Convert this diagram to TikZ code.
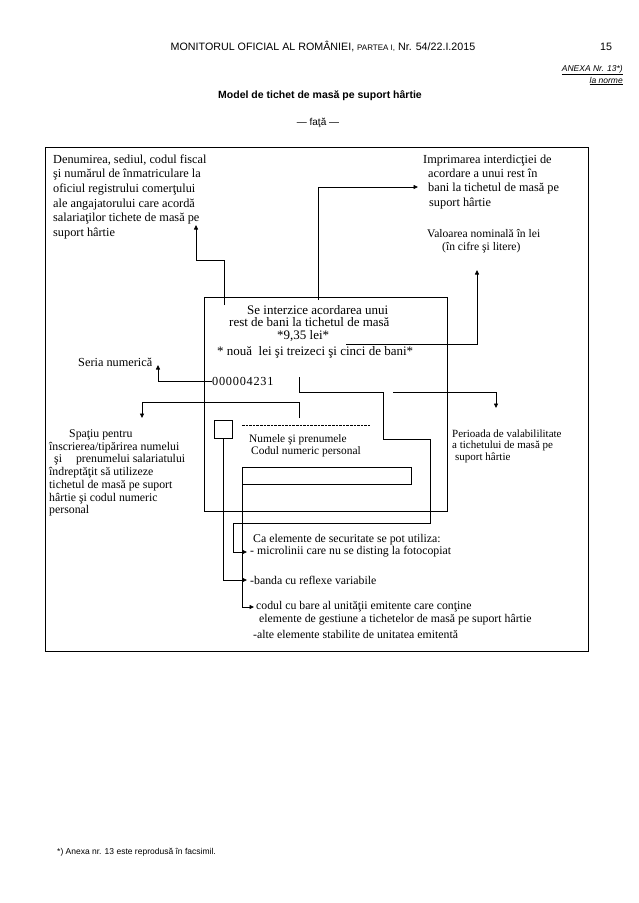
\documentclass[tikz,border=0pt]{standalone}
\usepackage{fontspec}
\setmainfont{Liberation Serif}
\setsansfont{Liberation Sans}
\usetikzlibrary{arrows.meta,calc,positioning}

\begin{document}
\begin{tikzpicture}[x=1pt, y=-1pt, >={Triangle[length=4.5pt,width=4pt]},
    every node/.style={inner sep=0pt},
    txt/.style={font=\fontsize{12.3}{14.6}\selectfont, align=left, anchor=north west},
    smalltxt/.style={font=\fontsize{11.8}{12.7}\selectfont, align=left, anchor=north west},
    line/.style={font=\fontsize{11.8}{13}\selectfont, anchor=west},
    head/.style={font=\sffamily\fontsize{10.7}{12}\selectfont},
    frame/.style={draw, line width=1.1pt, anchor=north west},
    conn/.style={line width=0.8pt} ]

    \useasboundingbox[fill=white] (0,0) rectangle (638,903);

    % header
    \node[head] (title) at (323,47) {MONITORUL OFICIAL AL ROMÂNIEI, {\fontsize{8}{9}\selectfont PARTEA I,} Nr. 54/22.I.2015};
    \node[head] (pagenum) at (606,47) {15};
    \node[font=\sffamily\itshape\fontsize{8.5}{10}\selectfont, anchor=east] (anexa) at (623,70) {\underline{ANEXA Nr. 13*)}};
    \node[font=\sffamily\itshape\fontsize{8.5}{10}\selectfont, anchor=east] (norme) at (623,81) {\underline{la norme}};
    \node[font=\sffamily\bfseries\fontsize{10.5}{12}\selectfont] (model) at (320,96) {Model de tichet de masă pe suport hârtie};
    \node[font=\sffamily\fontsize{10}{12}\selectfont] (fata) at (318,123) {— faţă —};

    % frames
    \node[frame, minimum width=543pt, minimum height=504pt] (outer) at (45,147) {};
    \node[frame, minimum width=243pt, minimum height=214pt] (ticket) at (204,297) {};
    \node[draw, line width=0.8pt, minimum size=18pt, anchor=north west] (photobox) at (214,420) {};
    \node[draw, line width=0.8pt, minimum width=169pt, minimum height=17pt, anchor=north west] (barbox) at (242,467) {};
    \draw[dash pattern=on 2.6pt off 1pt, line width=0.6pt] (242,425) -- (370,425);

    % texts
    \node[txt] (denumirea) at (53,154.5) {Denumirea, sediul, codul fiscal\\
        şi numărul de înmatriculare la\\
        oficiul registrului comerţului\\
        ale angajatorului care acordă\\
        salariaţilor tichete de masă pe\\
        suport hârtie};
    \node[txt, font=\fontsize{12.3}{14.3}\selectfont] (imprimarea) at (423,154.5) {Imprimarea interdicţiei de\\
        \hspace*{5pt}acordare a unui rest în\\
        \hspace*{5pt}bani la tichetul de masă pe\\
        \hspace*{6pt}suport hârtie};
    \node[txt, font=\fontsize{11.6}{13.4}\selectfont] (valoarea) at (427,229) {Valoarea nominală în lei\\
        \hspace*{15pt}(în cifre şi litere)};
    \node[txt, font=\fontsize{13}{12.4}\selectfont] (interzice) at (217,305) {\hspace*{30pt}Se interzice acordarea unui\\
        \hspace*{12pt}rest de bani la tichetul de masă\\
        \hspace*{60pt}*9,35 lei*\\[4.5pt]
        * nouă \ lei şi treizeci şi cinci de bani*};
    \node[font=\fontsize{12.3}{14}\selectfont, anchor=west] (seria) at (78,362) {Seria numerică};
    \node[font=\fontsize{12.3}{14}\selectfont\addfontfeature{LetterSpace=6}, anchor=west] (serie) at (212,381) {000004231};
    \node[smalltxt] (spatiu) at (49,429.5) {\hspace*{20pt}Spaţiu pentru\\
        înscrierea/tipărirea numelui\\
        \hspace*{5pt}şi\hspace*{14pt}prenumelui salariatului\\
        îndreptăţit să utilizeze\\
        tichetul de masă pe suport\\
        hârtie şi codul numeric\\
        personal};
    \node[smalltxt, font=\fontsize{11}{11.6}\selectfont] (perioada) at (452,429.5) {Perioada de valabililitate\\
        a tichetului de masă pe\\
        \hspace*{3pt}suport hârtie};
    \node[smalltxt, font=\fontsize{11.4}{12}\selectfont] (numele) at (249,434.5) {Numele şi prenumele\\
        \hspace*{2pt}Codul numeric personal};
    \node[line] (secintro) at (253,540) {Ca elemente de securitate se pot utiliza:};
    \node[line] (microl) at (250,552) {- microlinii care nu se disting la fotocopiat};
    \node[line] (banda) at (250,580) {-banda cu reflexe variabile};
    \node[line] (codbare) at (256,607) {codul cu bare al unităţii emitente care conţine};
    \node[line] (gestiune) at (259,620) {elemente de gestiune a tichetelor de masă pe suport hârtie};
    \node[line] (alte) at (253,634) {-alte elemente stabilite de unitatea emitentă};

    % connector ends
    \coordinate (denfoot) at (224,305);
    \coordinate (dentip) at (196,225);
    \coordinate (imprfoot) at (318,300);
    \coordinate (imprtip) at (418,187);
    \coordinate (valfoot) at (346,344);
    \coordinate (valtip) at (477,270);
    \coordinate (seriatip) at (158,365);
    \coordinate (spatfoot) at (299,418);
    \coordinate (spattip) at (142,418);
    \coordinate (secstart) at (299,377);
    \coordinate (perstart) at (393,392);
    \coordinate (pertip) at (496,408);

    % connectors
    \draw[conn,->] (denfoot) -- ++(0,-45) -| (dentip);
    \draw[conn,->] (imprfoot) |- (imprtip);
    \draw[conn,->] (valfoot) -| (valtip);
    \draw[conn,->] (serie.west) -| (seriatip);
    \draw[conn,->] (spatfoot) -- ++(0,-16) -| (spattip);
    \draw[conn,->] (secstart) |- (383,392) |- (430,439) |- (233,523) |- ([xshift=-3pt]microl.west);
    \draw[conn,->] (perstart) -| (pertip);
    \draw[conn,->] (photobox.south) |- ([xshift=-3pt]banda.west);
    \draw[conn,->] (barbox.south west) |- ([xshift=-2pt]codbare.west);

    % footnote
    \node[font=\sffamily\fontsize{8.5}{10}\selectfont, anchor=west] (footnote) at (57,852) {*) Anexa nr. 13 este reprodusă în facsimil.};
\end{tikzpicture}
\end{document}
